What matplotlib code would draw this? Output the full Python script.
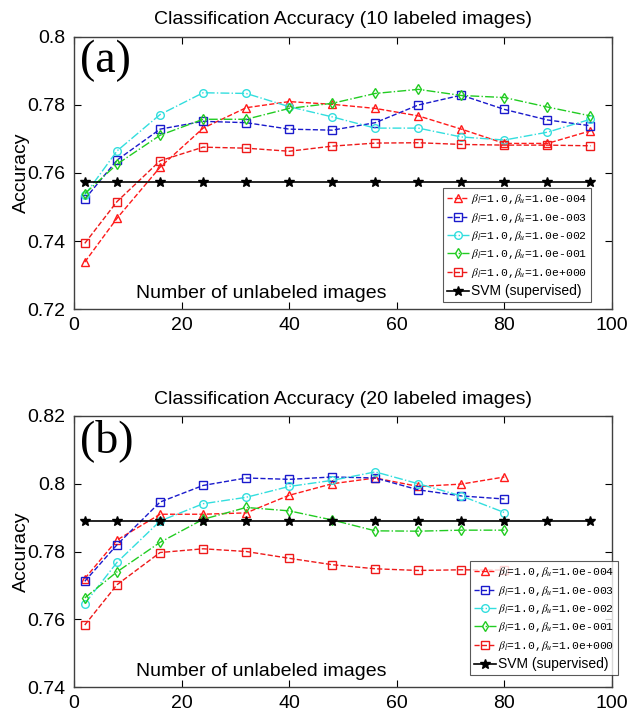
import matplotlib
matplotlib.use("Agg")
import matplotlib.pyplot as plt
from matplotlib.ticker import FuncFormatter

plt.rcParams['font.family'] = ['Liberation Sans', 'DejaVu Sans']
plt.rcParams['mathtext.fontset'] = 'stix'

# ---------------- data ----------------
x_a = [2, 8, 16, 24, 32, 40, 48, 56, 64, 72, 80, 88, 96]
a_1e4 = [0.7338, 0.7467, 0.7617, 0.7732, 0.7792, 0.7810, 0.7802, 0.7790, 0.7768, 0.7729, 0.7687, 0.7687, 0.7724]
a_1e3 = [0.7523, 0.7638, 0.7729, 0.7752, 0.7748, 0.7729, 0.7726, 0.7748, 0.7800, 0.7829, 0.7787, 0.7756, 0.7739]
a_1e2 = [0.7535, 0.7665, 0.7772, 0.7836, 0.7834, 0.7795, 0.7765, 0.7732, 0.7732, 0.7706, 0.7697, 0.7720, 0.7758]
a_1e1 = [0.7539, 0.7626, 0.7711, 0.7758, 0.7758, 0.7790, 0.7805, 0.7834, 0.7846, 0.7828, 0.7822, 0.7794, 0.7768]
a_1e0 = [0.7393, 0.7516, 0.7636, 0.7676, 0.7673, 0.7664, 0.7679, 0.7688, 0.7689, 0.7684, 0.7682, 0.7682, 0.7680]
svm_a = [0.7575] * 13

x_b = [2, 8, 16, 24, 32, 40, 48, 56, 64, 72, 80]
b_1e4 = [0.7720, 0.7834, 0.7910, 0.7910, 0.7914, 0.7966, 0.8000, 0.8017, 0.7992, 0.7999, 0.8020]
b_1e3 = [0.7712, 0.7820, 0.7946, 0.7995, 0.8017, 0.8013, 0.8020, 0.8017, 0.7982, 0.7964, 0.7955]
b_1e2 = [0.7646, 0.7768, 0.7890, 0.7941, 0.7960, 0.7992, 0.8010, 0.8035, 0.8000, 0.7964, 0.7915]
b_1e1 = [0.7663, 0.7740, 0.7827, 0.7895, 0.7930, 0.7920, 0.7893, 0.7861, 0.7860, 0.7863, 0.7863]
b_1e0 = [0.7583, 0.7702, 0.7797, 0.7808, 0.7800, 0.7780, 0.7761, 0.7749, 0.7744, 0.7746, 0.7745]
x_svm_b = [2, 8, 16, 24, 32, 40, 48, 56, 64, 72, 80, 88, 96]
svm_b = [0.789] * 13

labels = [r'$\beta_l$=1.0,$\beta_u$=1.0e-004',
          r'$\beta_l$=1.0,$\beta_u$=1.0e-003',
          r'$\beta_l$=1.0,$\beta_u$=1.0e-002',
          r'$\beta_l$=1.0,$\beta_u$=1.0e-001',
          r'$\beta_l$=1.0,$\beta_u$=1.0e+000',
          'SVM (supervised)']
titles = ['Classification Accuracy (10 labeled images)',
          'Classification Accuracy (20 labeled images)']
panel_tags = ['(a)', '(b)']
xticks = [0, 20, 40, 60, 80, 100]
yticks_a = [0.72, 0.74, 0.76, 0.78, 0.80]
yticks_b = [0.74, 0.76, 0.78, 0.80, 0.82]

styles = [
    dict(color='#ff1a1a', ls='--', marker='^'),
    dict(color='#1a1acc', ls='--', marker='s'),
    dict(color='#33dede', ls='-.', marker='o'),
    dict(color='#22cc22', ls='-.', marker='d'),
    dict(color='#ee1a1a', ls='--', marker='s'),
]

fig = plt.figure(figsize=(6.36, 7.15), dpi=100)
ax_a = fig.add_axes([74/636, 1-309/715, 538/636, 272/715])
ax_b = fig.add_axes([74/636, 1-687/715, 538/636, 271/715])

panels = [
    (ax_a, x_a, [a_1e4, a_1e3, a_1e2, a_1e1, a_1e0], x_a, svm_a, yticks_a,
     (0.686, 0.026)),
    (ax_b, x_b, [b_1e4, b_1e3, b_1e2, b_1e1, b_1e0], x_svm_b, svm_b, yticks_b,
     (0.736, 0.044)),
]

fmt = FuncFormatter(lambda v, p: ('%g' % round(v, 4)))

for i, (ax, xs, series, xsv, sv, yt, lbb) in enumerate(panels):
    for ys, st in zip(series, styles):
        ax.plot(xs, ys, linestyle=st['ls'], color=st['color'], marker=st['marker'],
                markerfacecolor='none', markeredgecolor=st['color'],
                markersize=5.5, markeredgewidth=1.0, linewidth=1.0)
    ax.plot(xsv, sv, '-', color='black', marker='*', markersize=7,
            markerfacecolor='black', linewidth=1.2)
    ax.set_xlim(0, 100)
    ax.set_ylim(yt[0], yt[-1])
    ax.set_xticks(xticks)
    ax.set_yticks(yt)
    ax.yaxis.set_major_formatter(fmt)
    ax.tick_params(direction='in', length=5, width=0.8, top=True, right=True,
                   labelsize=14, pad=6)
    for sp in ax.spines.values():
        sp.set_color('#404040')
        sp.set_linewidth(1.0)
    ax.set_ylabel('Accuracy', fontsize=14, labelpad=-2)
    ax.set_title(titles[i], fontsize=14, pad=9)
    ax.text(0.012, 0.99, panel_tags[i], transform=ax.transAxes, ha='left', va='top',
            fontsize=33, family=['Liberation Serif', 'DejaVu Serif'])
    ax.text(0.115, 0.042, 'Number of unlabeled images', transform=ax.transAxes,
            ha='left', va='baseline', fontsize=14)
    leg = ax.legend(labels, loc='lower left', bbox_to_anchor=lbb,
                    prop={'family': ['Liberation Mono', 'DejaVu Sans Mono'], 'size': 8.2},
                    frameon=True, fancybox=False, edgecolor='#303030',
                    handlelength=1.9, handletextpad=0.2, labelspacing=0.38,
                    borderpad=0.35, borderaxespad=0.0)
    leg.get_frame().set_linewidth(0.8)
    leg.set_zorder(5)
    for t in leg.get_texts()[-1:]:
        t.set_family(['Liberation Sans', 'DejaVu Sans'])
        t.set_fontsize(10)

fig.savefig('out.png', dpi=100)
